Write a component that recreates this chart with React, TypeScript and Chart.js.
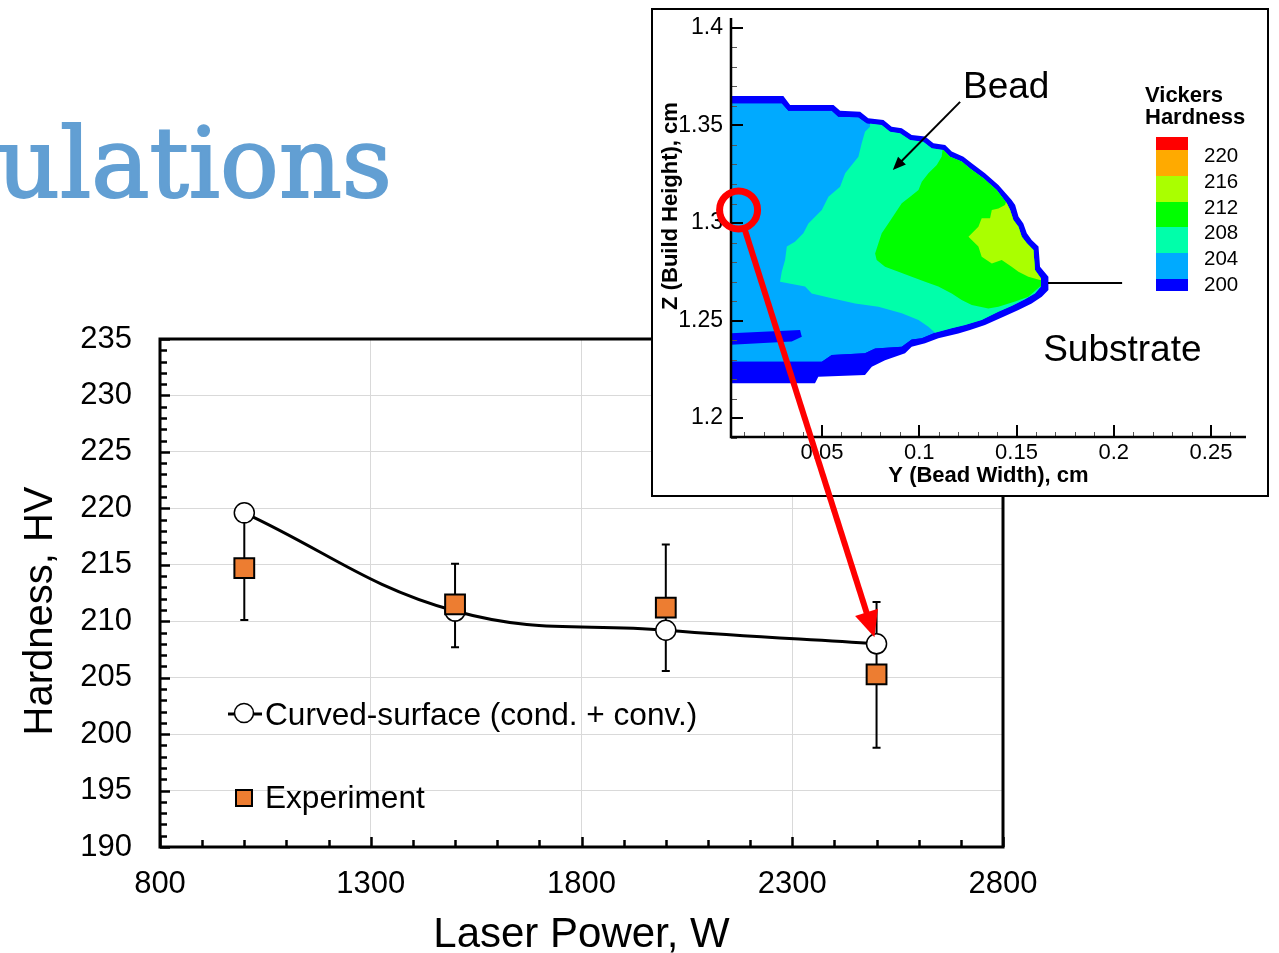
import React, { useEffect, useRef } from 'react';
import { Chart, registerables } from 'chart.js';

Chart.register(...registerables);

const FONT = "'Liberation Sans', Arial, Helvetica, sans-serif";

// ---------- Main chart data ----------
const LASER_POWER_W = [1000, 1500, 2000, 2500];
const SIM_HARDNESS = [219.6, 210.9, 209.2, 208.0];
const EXP_HARDNESS = [214.7, 211.5, 211.2, 205.3];
const EXP_LOW = [210.1, 207.7, 205.6, 198.8];
const EXP_HIGH = [219.3, 215.1, 216.8, 211.7];
const MAIN_X_TICKS = [800, 1300, 1800, 2300, 2800];
const MAIN_Y_TICKS = [190, 195, 200, 205, 210, 215, 220, 225, 230, 235];
const SIM_LABEL = 'Curved-surface (cond. + conv.)';
const EXP_LABEL = 'Experiment';
const X_TITLE = 'Laser Power, W';
const Y_TITLE = 'Hardness, HV';
const SLIDE_TITLE = 'ulations';

// ---------- Inset (contour) data: [Y cm, Z cm] ----------
const INSET_Y_TICKS = [0.05, 0.1, 0.15, 0.2, 0.25];
const INSET_Z_TICKS = [1.2, 1.25, 1.3, 1.35, 1.4];
const HV_LEVELS = ['220', '216', '212', '208', '204', '200'];
const HV_COLORS = ['#FF0000', '#FFAA00', '#AAFF00', '#00FF00', '#00FFAA', '#00AAFF', '#0000FF'];

const BEAD_OUTER = [
  [0, 1.3651], [0.0301, 1.3651], [0.0336, 1.3605], [0.0559, 1.3605], [0.0593, 1.3576], [0.0696, 1.3571],
  [0.0738, 1.3537], [0.0816, 1.3528], [0.0858, 1.3494], [0.091, 1.3486], [0.0961, 1.3451], [0.103, 1.3443],
  [0.1073, 1.3409], [0.1133, 1.34], [0.1167, 1.3366], [0.1227, 1.334], [0.127, 1.3306], [0.1338, 1.3255],
  [0.1407, 1.3195], [0.1475, 1.3118], [0.1493, 1.3092], [0.151, 1.3033], [0.1535, 1.2998], [0.1553, 1.2947],
  [0.1578, 1.2913], [0.1613, 1.2879], [0.1621, 1.2776], [0.1664, 1.2725], [0.1664, 1.2656], [0.163, 1.2622],
  [0.1578, 1.2588], [0.151, 1.2554], [0.1433, 1.252], [0.1338, 1.2477], [0.1261, 1.2451], [0.1201, 1.2434],
  [0.1098, 1.2409], [0.103, 1.2383], [0.0961, 1.2366], [0.0927, 1.2332], [0.0824, 1.2297], [0.0756, 1.2263],
  [0.0721, 1.2221], [0.0481, 1.2212], [0.0464, 1.2178], [0, 1.2178],
];
const BEAD_INNER = [
  [0, 1.3614], [0.0293, 1.3614], [0.0327, 1.3576], [0.055, 1.3576], [0.0584, 1.3545], [0.0687, 1.3542],
  [0.073, 1.3511], [0.0807, 1.3503], [0.085, 1.3468], [0.0901, 1.346], [0.0953, 1.3426], [0.1021, 1.3417],
  [0.1064, 1.3383], [0.1124, 1.3374], [0.1158, 1.334], [0.1218, 1.3315], [0.1261, 1.328], [0.133, 1.3229],
  [0.1398, 1.3169], [0.145, 1.3101], [0.1467, 1.3067], [0.1484, 1.3015], [0.151, 1.2981], [0.1527, 1.293],
  [0.1553, 1.2896], [0.1587, 1.2862], [0.1595, 1.2759], [0.1626, 1.2716], [0.1626, 1.2674], [0.1595, 1.2639],
  [0.1544, 1.2609], [0.1475, 1.2574], [0.1407, 1.2545], [0.1321, 1.2503], [0.1236, 1.2477], [0.1167, 1.246],
  [0.1081, 1.2438], [0.1013, 1.2409], [0.0961, 1.2403], [0.091, 1.2366], [0.0773, 1.2357], [0.0721, 1.2332],
  [0.055, 1.2323], [0.0499, 1.2289], [0, 1.2289],
];
const STREAK_200 = [[0, 1.2434], [0.0387, 1.2451], [0.0396, 1.2417], [0.0344, 1.2392], [0, 1.2374]];
const BAND_208 = [
  [0.075, 1.36], [0.18, 1.36], [0.18, 1.23], [0.112, 1.23], [0.1081, 1.2438], [0.1047, 1.2468], [0.0996, 1.2503],
  [0.091, 1.2537], [0.079, 1.2571], [0.067, 1.2588], [0.055, 1.2614], [0.0447, 1.2639], [0.0413, 1.2674],
  [0.0284, 1.2699], [0.0293, 1.275], [0.031, 1.281], [0.0319, 1.2879], [0.0361, 1.2904], [0.0404, 1.2947],
  [0.043, 1.2998], [0.0499, 1.3067], [0.0533, 1.3135], [0.0593, 1.3186], [0.0619, 1.3255], [0.0687, 1.334],
  [0.0704, 1.3409], [0.0721, 1.3468], [0.0747, 1.3494],
];
const BAND_212 = [
  [0.113, 1.345], [0.1115, 1.334], [0.109, 1.3297], [0.1047, 1.3255], [0.1013, 1.3212], [0.0996, 1.3169],
  [0.0953, 1.3135], [0.091, 1.3101], [0.0876, 1.305], [0.0841, 1.2998], [0.0807, 1.2947], [0.079, 1.2896],
  [0.0773, 1.2844], [0.0781, 1.281], [0.0824, 1.2776], [0.0893, 1.275], [0.0961, 1.2725], [0.103, 1.2699],
  [0.1098, 1.2674], [0.1167, 1.2639], [0.1218, 1.2605], [0.127, 1.258], [0.1355, 1.2562], [0.1407, 1.2571],
  [0.1493, 1.2597], [0.1561, 1.2622], [0.1621, 1.2674], [0.18, 1.26], [0.18, 1.345],
];
const BAND_216 = [
  [0.146, 1.315], [0.1441, 1.3092], [0.1407, 1.3075], [0.1373, 1.3067], [0.1364, 1.3024], [0.1321, 1.3024],
  [0.1304, 1.2981], [0.1253, 1.293], [0.1304, 1.2879], [0.1321, 1.2827], [0.1373, 1.2793], [0.1424, 1.281],
  [0.1475, 1.2776], [0.151, 1.275], [0.1561, 1.2725], [0.1621, 1.2708], [0.18, 1.27], [0.18, 1.315],
];
const BEAD_TEXT_AT = [0.1225, 1.3641];
const BEAD_ARROW = [[0.121, 1.3621], [0.0864, 1.3272]];
const SUBSTRATE_TEXT_AT = [0.1637, 1.2292];
const SUBSTRATE_LINE = [[0.1662, 1.2692], [0.2043, 1.2692]];
const INSET_PROBE = [0.0071, 1.3067];
const PROBE_TARGET_INDEX = 3;

function tracePoly(ctx: any, pts: number[][], xs: any, ys: any) {
  pts.forEach(([a, b], i) => {
    const px = xs.getPixelForValue(a);
    const py = ys.getPixelForValue(b);
    if (i === 0) ctx.moveTo(px, py);
    else ctx.lineTo(px, py);
  });
  ctx.closePath();
}

function zeroPad(s: any) {
  s.paddingTop = 0;
  s.paddingBottom = 0;
  s.paddingLeft = 0;
  s.paddingRight = 0;
}

const mainDecor = {
  id: 'mainDecor',
  beforeDatasetsDraw(chart: any) {
    const { ctx, scales: { x, y } } = chart;
    ctx.save();
    ctx.strokeStyle = '#000';
    ctx.lineWidth = 2;
    LASER_POWER_W.forEach((p, i) => {
      const px = x.getPixelForValue(p);
      const t = y.getPixelForValue(EXP_HIGH[i]);
      const b = y.getPixelForValue(EXP_LOW[i]);
      ctx.beginPath();
      ctx.moveTo(px, t); ctx.lineTo(px, b);
      ctx.moveTo(px - 4, t); ctx.lineTo(px + 4, t);
      ctx.moveTo(px - 4, b); ctx.lineTo(px + 4, b);
      ctx.stroke();
    });
    ctx.restore();
  },
  afterDraw(chart: any) {
    const { ctx, chartArea: a, scales: { x, y } } = chart;
    ctx.save();
    // inward ticks
    ctx.strokeStyle = '#000';
    ctx.lineWidth = 2.5;
    ctx.beginPath();
    for (let v = 190; v <= 235; v += 1) {
      const py = Math.round(y.getPixelForValue(v)) + 0.5;
      const len = v % 5 === 0 ? 10 : 7;
      ctx.moveTo(a.left, py); ctx.lineTo(a.left + len, py);
    }
    for (let v = 800; v <= 2800; v += 100) {
      const px = Math.round(x.getPixelForValue(v)) + 0.5;
      const len = (v - 800) % 500 === 0 ? 10 : 7;
      ctx.moveTo(px, a.bottom); ctx.lineTo(px, a.bottom - len);
    }
    ctx.stroke();
    // frame
    ctx.lineWidth = 3;
    ctx.strokeRect(a.left, a.top, a.right - a.left, a.bottom - a.top);
    // legend
    const lx = a.left + 84;
    const ly1 = a.top + 374;
    ctx.lineWidth = 3;
    ctx.beginPath(); ctx.moveTo(a.left + 68, ly1 + 1); ctx.lineTo(a.left + 102, ly1 + 1); ctx.stroke();
    ctx.beginPath(); ctx.arc(lx, ly1, 9.5, 0, Math.PI * 2);
    ctx.fillStyle = '#fff'; ctx.fill();
    ctx.lineWidth = 1.5; ctx.stroke();
    const ly2 = a.top + 459;
    ctx.fillStyle = '#ED7D31';
    ctx.fillRect(lx - 8, ly2 - 8, 16, 16);
    ctx.lineWidth = 2;
    ctx.strokeRect(lx - 8, ly2 - 8, 16, 16);
    ctx.fillStyle = '#000';
    ctx.font = `31.6px ${FONT}`;
    ctx.textAlign = 'left';
    ctx.textBaseline = 'alphabetic';
    ctx.fillText(SIM_LABEL, a.left + 105, a.top + 386);
    ctx.fillText(EXP_LABEL, a.left + 105, a.top + 469);
    // axis titles
    ctx.font = `42px ${FONT}`;
    ctx.textAlign = 'center';
    ctx.fillText(X_TITLE, (a.left + a.right) / 2, a.bottom + 100);
    ctx.font = `40px ${FONT}`;
    ctx.save();
    ctx.translate(a.left - 108, a.top + 272);
    ctx.rotate(-Math.PI / 2);
    ctx.fillText(Y_TITLE, 0, 0);
    ctx.restore();
    ctx.restore();
  },
};

const insetDecor = {
  id: 'insetDecor',
  beforeDatasetsDraw(chart: any) {
    const { ctx, chartArea: a, scales: { x, y } } = chart;
    ctx.save();
    ctx.beginPath();
    ctx.rect(a.left, a.top, a.right - a.left, a.bottom - a.top);
    ctx.clip();
    ctx.beginPath(); tracePoly(ctx, BEAD_OUTER, x, y);
    ctx.fillStyle = HV_COLORS[6]; ctx.fill();
    ctx.save();
    ctx.beginPath(); tracePoly(ctx, BEAD_INNER, x, y);
    ctx.clip();
    ctx.fillStyle = HV_COLORS[5]; ctx.fill();
    ctx.beginPath(); tracePoly(ctx, BAND_208, x, y); ctx.fillStyle = HV_COLORS[4]; ctx.fill();
    ctx.beginPath(); tracePoly(ctx, BAND_212, x, y); ctx.fillStyle = HV_COLORS[3]; ctx.fill();
    ctx.beginPath(); tracePoly(ctx, BAND_216, x, y); ctx.fillStyle = HV_COLORS[2]; ctx.fill();
    ctx.restore();
    ctx.beginPath(); tracePoly(ctx, STREAK_200, x, y); ctx.fillStyle = HV_COLORS[6]; ctx.fill();
    ctx.restore();
  },
  afterDraw(chart: any) {
    const { ctx, chartArea: a, scales: { x, y } } = chart;
    ctx.save();
    // minor ticks
    ctx.strokeStyle = '#555';
    ctx.lineWidth = 1;
    ctx.beginPath();
    for (let k = 119; k <= 140; k++) {
      if (k % 5 === 0) continue;
      const py = Math.round(y.getPixelForValue(k / 100)) + 0.5;
      ctx.moveTo(a.left, py); ctx.lineTo(a.left + 6, py);
    }
    for (let k = 1; k <= 26; k++) {
      if (k % 5 === 0) continue;
      const px = Math.round(x.getPixelForValue(k / 100)) + 0.5;
      ctx.moveTo(px, a.bottom); ctx.lineTo(px, a.bottom - 5);
    }
    ctx.stroke();
    // major ticks
    ctx.strokeStyle = '#000';
    ctx.lineWidth = 2;
    ctx.beginPath();
    INSET_Z_TICKS.forEach((v) => {
      const py = Math.round(y.getPixelForValue(v));
      ctx.moveTo(a.left, py); ctx.lineTo(a.left + 12, py);
    });
    INSET_Y_TICKS.forEach((v) => {
      const px = Math.round(x.getPixelForValue(v));
      ctx.moveTo(px, a.bottom); ctx.lineTo(px, a.bottom - 12);
    });
    ctx.stroke();
    // axis lines
    ctx.lineWidth = 2.5;
    ctx.beginPath();
    ctx.moveTo(a.left, a.top); ctx.lineTo(a.left, a.bottom); ctx.lineTo(a.right, a.bottom);
    ctx.stroke();
    // axis titles
    ctx.fillStyle = '#000';
    ctx.font = `bold 22px ${FONT}`;
    ctx.textAlign = 'center';
    ctx.textBaseline = 'alphabetic';
    ctx.fillText('Y (Bead Width), cm', (a.left + a.right) / 2, a.bottom + 45);
    ctx.save();
    ctx.translate(a.left - 54, a.top + 188);
    ctx.rotate(-Math.PI / 2);
    ctx.fillText('Z (Build Height), cm', 0, 0);
    ctx.restore();
    // colour bar
    const bounds = [119, 132, 158, 184, 209, 235, 261, 273];
    HV_COLORS.forEach((c, i) => {
      ctx.fillStyle = c;
      ctx.fillRect(a.left + 425, a.top + bounds[i], 32, bounds[i + 1] - bounds[i]);
    });
    ctx.fillStyle = '#000';
    ctx.textAlign = 'left';
    ctx.font = `bold 22px ${FONT}`;
    ctx.fillText('Vickers', a.left + 414, a.top + 84);
    ctx.fillText('Hardness', a.left + 414, a.top + 106);
    ctx.font = `20.5px ${FONT}`;
    ctx.textBaseline = 'middle';
    HV_LEVELS.forEach((l, i) => {
      ctx.fillText(l, a.left + 473, a.top + bounds[i + 1] + 6);
    });
    // annotations
    ctx.textBaseline = 'alphabetic';
    ctx.font = `37px ${FONT}`;
    ctx.fillText('Bead', x.getPixelForValue(BEAD_TEXT_AT[0]), y.getPixelForValue(BEAD_TEXT_AT[1]));
    ctx.fillText('Substrate', x.getPixelForValue(SUBSTRATE_TEXT_AT[0]), y.getPixelForValue(SUBSTRATE_TEXT_AT[1]));
    ctx.lineWidth = 2;
    ctx.strokeStyle = '#000';
    ctx.beginPath();
    ctx.moveTo(x.getPixelForValue(SUBSTRATE_LINE[0][0]), y.getPixelForValue(SUBSTRATE_LINE[0][1]));
    ctx.lineTo(x.getPixelForValue(SUBSTRATE_LINE[1][0]), y.getPixelForValue(SUBSTRATE_LINE[1][1]));
    ctx.stroke();
    const tx = x.getPixelForValue(BEAD_ARROW[0][0]);
    const ty = y.getPixelForValue(BEAD_ARROW[0][1]);
    const hx = x.getPixelForValue(BEAD_ARROW[1][0]);
    const hy = y.getPixelForValue(BEAD_ARROW[1][1]);
    const ang = Math.atan2(hy - ty, hx - tx);
    ctx.beginPath();
    ctx.moveTo(tx, ty);
    ctx.lineTo(hx - Math.cos(ang) * 8, hy - Math.sin(ang) * 8);
    ctx.stroke();
    ctx.beginPath();
    ctx.moveTo(hx, hy);
    ctx.lineTo(hx - Math.cos(ang) * 13 + Math.sin(ang) * 5.5, hy - Math.sin(ang) * 13 - Math.cos(ang) * 5.5);
    ctx.lineTo(hx - Math.cos(ang) * 13 - Math.sin(ang) * 5.5, hy - Math.sin(ang) * 13 + Math.cos(ang) * 5.5);
    ctx.closePath();
    ctx.fillStyle = '#000';
    ctx.fill();
    ctx.restore();
  },
};

function mainConfig(): any {
  return {
    type: 'scatter',
    data: {
      datasets: [
        {
          label: EXP_LABEL,
          data: LASER_POWER_W.map((p, i) => ({ x: p, y: EXP_HARDNESS[i] })),
          showLine: false,
          pointStyle: 'rect',
          pointRadius: 14,
          pointBackgroundColor: '#ED7D31',
          pointBorderColor: '#000',
          pointBorderWidth: 2,
          order: 0,
        },
        {
          label: SIM_LABEL,
          data: LASER_POWER_W.map((p, i) => ({ x: p, y: SIM_HARDNESS[i] })),
          showLine: true,
          borderColor: '#000',
          borderWidth: 3,
          tension: 0.4,
          pointStyle: 'circle',
          pointRadius: 10,
          pointBackgroundColor: '#fff',
          pointBorderColor: '#000',
          pointBorderWidth: 1.5,
          order: 1,
        },
      ],
    },
    options: {
      animation: false,
      responsive: false,
      maintainAspectRatio: false,
      layout: { padding: { left: 0, right: 276, top: 339, bottom: 0 } },
      plugins: { legend: { display: false }, tooltip: { enabled: false } },
      scales: {
        x: {
          type: 'linear',
          min: 800,
          max: 2800,
          afterBuildTicks: (s: any) => { s.ticks = MAIN_X_TICKS.map((value) => ({ value })); },
          afterFit: (s: any) => { s.height = 106; zeroPad(s); },
          grid: { color: '#D9D9D9', lineWidth: 1, drawTicks: false },
          border: { display: false },
          ticks: { color: '#000', font: { family: FONT, size: 31 }, padding: 19, maxRotation: 0, autoSkip: false, callback: (v: any) => String(v) },
        },
        y: {
          type: 'linear',
          min: 190,
          max: 235,
          afterBuildTicks: (s: any) => { s.ticks = MAIN_Y_TICKS.map((value) => ({ value })); },
          afterFit: (s: any) => { s.width = 160; zeroPad(s); },
          grid: { color: '#D9D9D9', lineWidth: 1, drawTicks: false },
          border: { display: false },
          ticks: { color: '#000', font: { family: FONT, size: 31 }, padding: 28, autoSkip: false, callback: (v: any) => String(v) },
        },
      },
    },
    plugins: [mainDecor],
  };
}

function insetConfig(): any {
  return {
    type: 'scatter',
    data: { datasets: [] },
    options: {
      animation: false,
      responsive: false,
      maintainAspectRatio: false,
      layout: { padding: { left: 0, right: 21, top: 8, bottom: 0 } },
      plugins: { legend: { display: false }, tooltip: { enabled: false } },
      scales: {
        x: {
          type: 'linear',
          min: 0.0032,
          max: 0.268,
          afterBuildTicks: (s: any) => { s.ticks = INSET_Y_TICKS.map((value) => ({ value })); },
          afterFit: (s: any) => { s.height = 58; zeroPad(s); },
          grid: { display: false, drawTicks: false },
          border: { display: false },
          ticks: { color: '#000', font: { family: FONT, size: 22 }, padding: 3, maxRotation: 0, autoSkip: false, callback: (v: any) => String(v) },
        },
        y: {
          type: 'linear',
          min: 1.1903,
          max: 1.4051,
          afterBuildTicks: (s: any) => { s.ticks = INSET_Z_TICKS.map((value) => ({ value })); },
          afterFit: (s: any) => { s.width = 78; zeroPad(s); },
          grid: { display: false, drawTicks: false },
          border: { display: false },
          ticks: { color: '#000', font: { family: FONT, size: 23 }, padding: 8, autoSkip: false, callback: (v: any) => String(v) },
        },
      },
    },
    plugins: [insetDecor],
  };
}

function drawOverlay(canvas: HTMLCanvasElement, main: any, inset: any, insetCanvas: HTMLCanvasElement) {
  const ctx = canvas.getContext('2d')!;
  ctx.clearRect(0, 0, canvas.width, canvas.height);
  const base = canvas.getBoundingClientRect();
  const ir = insetCanvas.getBoundingClientRect();
  const mr = main.canvas.getBoundingClientRect();
  const cx = ir.left - base.left + inset.scales.x.getPixelForValue(INSET_PROBE[0]);
  const cy = ir.top - base.top + inset.scales.y.getPixelForValue(INSET_PROBE[1]);
  const mx = mr.left - base.left + main.scales.x.getPixelForValue(LASER_POWER_W[PROBE_TARGET_INDEX]);
  const my = mr.top - base.top + main.scales.y.getPixelForValue(SIM_HARDNESS[PROBE_TARGET_INDEX]);
  const len = Math.hypot(mx - cx, my - cy);
  const dx = (mx - cx) / len;
  const dy = (my - cy) / len;
  ctx.save();
  ctx.strokeStyle = '#FF0000';
  ctx.fillStyle = '#FF0000';
  ctx.lineWidth = 7;
  ctx.beginPath();
  ctx.arc(cx, cy, 19, 0, Math.PI * 2);
  ctx.stroke();
  const tipX = mx - dx * 7;
  const tipY = my - dy * 7;
  ctx.lineWidth = 6;
  ctx.beginPath();
  ctx.moveTo(cx + dx * 19, cy + dy * 19);
  ctx.lineTo(tipX - dx * 20, tipY - dy * 20);
  ctx.stroke();
  ctx.beginPath();
  ctx.moveTo(tipX, tipY);
  ctx.lineTo(tipX - dx * 26 - dy * 12, tipY - dy * 26 + dx * 12);
  ctx.lineTo(tipX - dx * 26 + dy * 12, tipY - dy * 26 - dx * 12);
  ctx.closePath();
  ctx.fill();
  ctx.restore();
}

export default function App() {
  const mainRef = useRef<HTMLCanvasElement>(null);
  const insetRef = useRef<HTMLCanvasElement>(null);
  const overRef = useRef<HTMLCanvasElement>(null);
  const titleRef = useRef<HTMLSpanElement>(null);

  useEffect(() => {
    const t = titleRef.current;
    if (t) {
      t.style.transform = 'none';
      const w = t.getBoundingClientRect().width;
      if (w > 0) t.style.transform = `scaleX(${395 / w})`;
    }
    const main = new Chart(mainRef.current as HTMLCanvasElement, mainConfig());
    const inset = new Chart(insetRef.current as HTMLCanvasElement, insetConfig());
    drawOverlay(overRef.current as HTMLCanvasElement, main, inset, insetRef.current as HTMLCanvasElement);
    return () => {
      main.destroy();
      inset.destroy();
    };
  }, []);

  return (
    <div style={{ position: 'absolute', left: 0, top: 0, width: 1279, height: 953, overflow: 'hidden', background: '#fff' }}>
      <canvas ref={mainRef} width={1279} height={953} style={{ position: 'absolute', left: 0, top: 0, width: 1279, height: 953 }} />
      <span
        ref={titleRef}
        style={{
          position: 'absolute', left: -3, top: 114, fontFamily: "'DejaVu Serif', serif", fontSize: 98,
          lineHeight: 1, color: '#629FD3', whiteSpace: 'nowrap', display: 'inline-block', transformOrigin: '0 0',
          WebkitTextStroke: '2px #629FD3',
        }}
      >
        {SLIDE_TITLE}
      </span>
      <div
        style={{
          position: 'absolute', left: 651, top: 8, width: 618, height: 489, boxSizing: 'border-box',
          border: '2px solid #000', background: '#fff',
        }}
      >
        <canvas ref={insetRef} width={614} height={485} style={{ display: 'block', width: 614, height: 485 }} />
      </div>
      <canvas ref={overRef} width={1279} height={953} style={{ position: 'absolute', left: 0, top: 0, width: 1279, height: 953, pointerEvents: 'none' }} />
    </div>
  );
}
